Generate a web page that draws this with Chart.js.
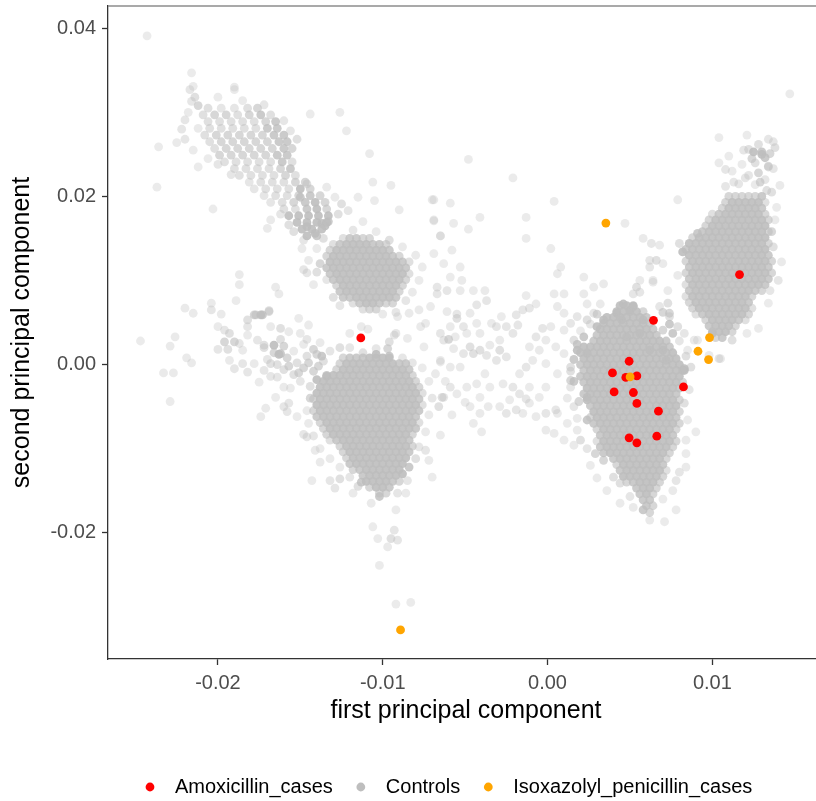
<!DOCTYPE html>
<html>
<head>
<meta charset="utf-8">
<title>PCA cases vs controls</title>
<script src="https://cdn.jsdelivr.net/npm/chart.js@4.4.1/dist/chart.umd.min.js"></script>
<style>
  html, body { margin: 0; padding: 0; background: #ffffff; }
  canvas { display: block; }
</style>
</head>
<body>
<canvas id="pca" width="816" height="801"></canvas>
<script>
// PC scores are written in units of 1e-4 as [first, second]
const SCORE_UNIT = 1e-4

const amoxicillinCases = [
  [-113.3, 31.6], [64.3, 52.6], [116.5, 107], [49.5, 3.9], [39.4, -10], [47.5, -15.4],
  [54.2, -13.5], [40.4, -32.6], [52.1, -33.3], [54.2, -46.3], [67.3, -55.5], [82.5, -26.6],
  [49.5, -87.2], [54.2, -93.2], [66.3, -85.2]
]

const isoxazolylCases = [
  [50.1, -14.7], [98.3, 32.1], [91.3, 15.8], [97.7, 5.9], [35.4, 168.3], [-89.2, -315.7]
]

// loose control points, read one by one
const controlsScattered = [
  [-216,347],[-215,331],[-217,327],[-190,330],[-190,327],[-216,313],[-212,308],[-220,291],[-236,259],[-225,264],
  [-237,211],[-212,235],[-203,185],[-144,298],[-126,300],[-122,278],[-108,251],[-106,217],[-95,213],[-90,184],
  [-70,196],[-69,171],[-65,153],[-105,195],[-149,138],[-148,148],[-145,124],[-148,113],[-146,109],[-187,107],
  [-187,95],[-165,92],[-163,84],[-189,76],[-220,67],[-215,61],[-204,73],[-204,65],[-198,60],[-178,59],
  [-169,64],[-174,59],[-243,391],[147,322],
  [-170,162],[-168,172],[-162,179],[-157,166],[-154,158],[-146,164],[-141,156],[-137,168],[-133,170],[-127,179],
  [-125,191],[-121,183],[-115,199],[-129,199],[-134,211],[-146,215],[-150,199],
  [-218,300],[-214,318],[-200,318],[-185,314],[-172,309],[-160,290],[-156,278],[-152,268],[-222,280],
  [-220,268],[-215,255],[-206,245],[-200,238],[-192,226],
  [-136,150],[-140,138],[-138,120],[-80,130],[-76,116],[-78,100],[-82,86],[-86,76],[-130,80],[-126,70],
  [-100,60],[-92,62],[-118,160],[-104,158],[-96,148],[-140,110],[-142,95],[-135,165],[-112,170],[-88,140],
  [-247,28],[-229,22],[-226,33],[-219,8],[-216,2],[-233,-10],[-227,-10],[-229,-44],[-200,45],[-200,18],
  [-194,18],[-196,41],[-193,37],[-196,27],[-190,27],[-187,25],[-185,17],[-193,5],[-190,-5],[-185,1],
  [-182,53],[-182,45],[-177,59],[-173,59],[-169,63],[-182,35],[-176,29],[-172,23],[-178,1],[-175,-21],
  [-182,-9],[-168,45],[-162,43],[-157,39],[-151,55],[-145,47],[-150,37],[-166,23],[-162,13],[-168,1],
  [-172,-7],[-164,-15],[-160,-27],[-165,-39],[-171,-52],[-174,-62],[-160,-50],[-157,-46],[-158,-56],[-152,-62],
  [-148,-83],[-146,-86],[-141,-102],[-138,-116],[-143,-138],[-132,-138],[-129,-147],[-126,-136],[-118,-153],[-113,-140],
  [-107,-165],[-102,-157],[-106,-193],[-103,-207],[-97,-217],[-102,-239],[-95,-207],[-92,-173],[-91,-153],[-86,-153],
  [-93,-197],[-91,-209],[-92,-285],[-83,-283],[-85,-138],[-74,-102],[-72,-114],[-70,-134],[-65,-84],[-63,-39],
  [-68,-11],[-65,3],[-75,21],[-77,45],[-74,49],[-85,31],[-93,35],[-91,57],[-84,61],[-78,65],
  [-71,69],[-67,84],[-120,37],[-113,45],[-109,42],[-104,19],[-97,19],[-96,27],[-92,37],
  [-172,20],[-166,14],[-160,22],[-154,16],[-148,24],[-142,18],[-170,6],[-164,0],[-158,8],[-152,2],
  [-146,10],[-140,12],[-160,-6],[-154,-12],[-148,-4],[-142,-8],[-136,4],[-150,-20],[-144,-26],[-156,-28],
  [-146,30],[-138,26],[-132,16],[-126,20],[-162,30],[-168,-14],[-163,12],[-157,-2],[-151,-10],[-139,-2],
  [-134,-14],[-140,-18],[-145,2],[-137,10],
  [-120,20],[-112,14],[-104,12],[-96,10],[-88,8],[-82,2],[-76,-4],[-72,-20],[-70,-40],[-72,-60],
  [-74,-80],[-78,-98],[-80,-112],[-84,-122],[-88,-130],[-144,-40],[-146,-55],[-145,-70],[-142,-85],[-138,-100],
  [-132,-112],[-126,-122],[-120,-134],[-115,-145],
  [-55,60],[-60,30],[-62,-20],[-50,-45],[-58,-60],[-45,-70],[-40,-80],[-66,-50],
  [-48,244],[-21,222],[4,194],[47,168],[-13,175],[-13,150],[-41,175],[-57,168],[-48,161],[-65,153],
  [-69,196],[-59,192],[-69,172],[79,196],[104,270],[121,273],[137,265],[108,232],[113,217],[119,255],
  [125,253],[130,253],[135,251],[137,233],[141,213],[139,187],[138,172],[136,158],[134,235],[122,225],
  [129,217],[133,207],
  [142,122],[137,140],[140,100],[135,88],[134,73],[128,43],[121,37],[112,29],[105,7],[98,11],
  [91,156],[80,144],[82,134],[79,106],[73,88],[73,73],[74,57],[79,45],[83,37],[91,29],[100,37],
  [58,150],[63,144],[68,142],[62,124],[70,120],[64,98],[56,86],[52,69],[68,69],[74,61],
  [70,41],[76,37],[85,17],[89,29],[104,7],[87,-3],[83,-5],
  [83,-7],[83,-46],[85,-66],[90,-80],[84,-106],[84,-122],[78,-138],[78,-173],[71,-187],[62,-185],[58,-173],
  [50,-157],[44,-141],[40,-134],[34,-114],[29,-106],[24,-100],[16,-96],[10,-90],[4,-82],[-1,-78],
  [12,-70],[6,-58],[18,-64],[24,-66],
  [-69,132],[-63,120],[-58,136],[-53,116],[-59,104],[-52,100],[-67,92],[-61,88],[-53,88],[-45,88],
  [-38,88],[-37,76],[-43,71],[-47,61],[-61,63],[-55,55],[-51,45],[-59,45],[-65,37],[-56,33],
  [-49,37],[-43,49],[-41,37],[-34,49],[-28,57],[-31,45],[-25,45],[-19,59],[-15,65],[-11,67],
  [-18,47],[-21,37],[-29,29],[-35,23],[-41,17],[-47,21],[-51,13],[-57,19],[-63,29],[-65,5],
  [-59,-3],[-53,-3],[-45,13],[-37,11],[-29,17],[-25,9],[-31,5],[-38,-11],[-43,-23],[-49,-27],
  [-55,-35],[-59,-27],[-64,-39],[-41,-39],[-35,-27],[-27,-23],[-21,-27],[-17,-35],[-23,-42],[-29,-50],
  [-36,-50],[-41,-58],[-47,-50],[-25,-58],[-19,-54],[-13,-41],[-11,-27],[-17,-11],[-13,-3],[-9,5],
  [-5,17],[-1,29],[5,21],[-11,21],[-7,33],[-3,43],[2,45],[10,41],[14,49],[18,57],
  [24,53],[28,61],[32,72],[24,72],[22,84],[28,92],[34,96],[22,104],[10,84],[4,84],
  [6,108],[8,116],[2,138],[-13,82],[-7,72],[10,61],[6,69],[16,29],[10,13],[14,-3],
  [6,-11],[-1,-27],[-5,-39],[-11,-46],[-15,-58],[-1,1],[18,17],[22,33],[24,13],[30,45],
  [34,53],[42,61],[46,72],[52,84],[54,92],[56,100],[62,116],[66,124],[64,100],[45,53],
  [50,65],[58,53],[48,33],[56,37],[62,17],[70,17],[72,5],[14,-27],[14,-19],[19,-44],
  [24,-39],[16,-50],[5,-54],[-1,-58],[-7,-62],
  [16,-20],[12,-40],[18,-78],[20,-90],[26,-120],[30,-135],[36,-150],[44,-165],[52,-170],[70,-160],
  [76,-150],[80,-128],[84,-90],[86,-30],[84,10],[80,28],[74,48],[70,62],[30,60],[26,48],
  [20,40],[18,24],[16,6],[14,-8],
  [112,230],[118,238],[124,245],[130,250],[120,222],[128,228],[134,236],[116,215],[126,214],[132,220],
  [136,205],[108,212],[122,256],[128,262],[134,268],[138,258],[110,248],[104,240],[126,240],[132,246]
]

// dense control clouds, one line per row: [second, first, first, ...]
const controlsUpperLeftRows = [
  [305, -206,-198,-190,-182,-176],
  [297, -209,-202,-195,-188,-181,-174,-168],
  [289, -206,-199,-192,-185,-178,-171,-165],
  [281, -212,-205,-198,-191,-184,-177,-170,-164],
  [273, -208,-201,-194,-187,-180,-173,-166,-160],
  [265, -205,-198,-191,-184,-177,-170,-163,-158],
  [257, -202,-195,-188,-181,-174,-167,-160,-155],
  [249, -199,-192,-185,-178,-171,-164,-158],
  [241, -196,-189,-182,-175,-168,-161,-155],
  [233, -190,-183,-176,-169,-162,-156],
  [225, -187,-180,-173,-166,-159,-153],
  [217, -181,-174,-167,-160,-153,-147],
  [209, -178,-171,-164,-157,-150,-144],
  [201, -172,-165,-158,-151,-144,-138],
  [193, -168,-161,-154,-147,-141,-135],
  [185, -160,-153,-146,-140,-134],
  [177, -157,-151,-145,-139,-133],
  [169, -152,-146,-140,-134],
  [161, -149,-143,-137],
  [153, -146,-140]
]

const controlsMidLeftRows = [
  [150, -124,-120,-116,-112,-108],
  [143, -130,-126,-122,-118,-114,-110,-106,-102,-98],
  [136, -132,-128,-124,-120,-116,-112,-108,-104,-100,-96],
  [129, -134,-130,-126,-122,-118,-114,-110,-106,-102,-98,-94,-90],
  [122, -132,-128,-124,-120,-116,-112,-108,-104,-100,-96,-92,-88,-84],
  [115, -134,-130,-126,-122,-118,-114,-110,-106,-102,-98,-94,-90,-86],
  [108, -132,-128,-124,-120,-116,-112,-108,-104,-100,-96,-92,-88,-84],
  [101, -134,-130,-126,-122,-118,-114,-110,-106,-102,-98,-94,-90,-86],
  [94, -128,-124,-120,-116,-112,-108,-104,-100,-96,-92,-88],
  [87, -126,-122,-118,-114,-110,-106,-102,-98,-94,-90],
  [80, -124,-120,-116,-112,-108,-104,-100,-96,-92],
  [73, -118,-114,-110,-106,-102,-98,-94],
  [66, -112,-108,-104]
]

const controlsLowerLeftRows = [
  [8, -124,-120,-116,-112,-108,-104,-100,-96],
  [1, -126,-122,-118,-114,-110,-106,-102,-98,-94,-90,-86],
  [-6, -128,-124,-120,-116,-112,-108,-104,-100,-96,-92,-88,-84],
  [-13, -134,-130,-126,-122,-118,-114,-110,-106,-102,-98,-94,-90,-86,-82],
  [-20, -136,-132,-128,-124,-120,-116,-112,-108,-104,-100,-96,-92,-88,-84,-80],
  [-27, -138,-134,-130,-126,-122,-118,-114,-110,-106,-102,-98,-94,-90,-86,-82,-78],
  [-34, -140,-136,-132,-128,-124,-120,-116,-112,-108,-104,-100,-96,-92,-88,-84,-80,-76],
  [-41, -142,-138,-134,-130,-126,-122,-118,-114,-110,-106,-102,-98,-94,-90,-86,-82,-78],
  [-48, -140,-136,-132,-128,-124,-120,-116,-112,-108,-104,-100,-96,-92,-88,-84,-80,-76],
  [-55, -142,-138,-134,-130,-126,-122,-118,-114,-110,-106,-102,-98,-94,-90,-86,-82,-78],
  [-62, -140,-136,-132,-128,-124,-120,-116,-112,-108,-104,-100,-96,-92,-88,-84,-80],
  [-69, -138,-134,-130,-126,-122,-118,-114,-110,-106,-102,-98,-94,-90,-86,-82,-78],
  [-76, -136,-132,-128,-124,-120,-116,-112,-108,-104,-100,-96,-92,-88,-84,-80],
  [-83, -134,-130,-126,-122,-118,-114,-110,-106,-102,-98,-94,-90,-86,-82],
  [-90, -132,-128,-124,-120,-116,-112,-108,-104,-100,-96,-92,-88,-84],
  [-97, -126,-122,-118,-114,-110,-106,-102,-98,-94,-90,-86,-82],
  [-104, -124,-120,-116,-112,-108,-104,-100,-96,-92,-88,-84],
  [-111, -122,-118,-114,-110,-106,-102,-98,-94,-90,-86],
  [-118, -120,-116,-112,-108,-104,-100,-96,-92,-88],
  [-125, -118,-114,-110,-106,-102,-98,-94,-90],
  [-132, -112,-108,-104,-100,-96,-92],
  [-139, -110,-106,-102,-98,-94,-90],
  [-146, -108,-104,-100,-96],
  [-153, -102,-98]
]

const controlsRightLowRows = [
  [70, 44,48,52],
  [63, 42,46,50,54,58],
  [56, 36,40,44,48,52,56,60],
  [49, 34,38,42,46,50,54,58,62],
  [42, 32,36,40,44,48,52,56,60,64],
  [35, 30,34,38,42,46,50,54,58,62,66],
  [28, 28,32,36,40,44,48,52,56,60,64,68,72],
  [21, 22,26,30,34,38,42,46,50,54,58,62,66,70,74],
  [14, 20,24,28,32,36,40,44,48,52,56,60,64,68,72,76],
  [7, 22,26,30,34,38,42,46,50,54,58,62,66,70,74,78],
  [0, 20,24,28,32,36,40,44,48,52,56,60,64,68,72,76,80],
  [-7, 22,26,30,34,38,42,46,50,54,58,62,66,70,74,78,82],
  [-14, 20,24,28,32,36,40,44,48,52,56,60,64,68,72,76,80],
  [-21, 22,26,30,34,38,42,46,50,54,58,62,66,70,74,78,82],
  [-28, 24,28,32,36,40,44,48,52,56,60,64,68,72,76,80],
  [-35, 22,26,30,34,38,42,46,50,54,58,62,66,70,74,78],
  [-42, 24,28,32,36,40,44,48,52,56,60,64,68,72,76,80],
  [-49, 26,30,34,38,42,46,50,54,58,62,66,70,74,78],
  [-56, 28,32,36,40,44,48,52,56,60,64,68,72,76,80],
  [-63, 26,30,34,38,42,46,50,54,58,62,66,70,74,78],
  [-70, 28,32,36,40,44,48,52,56,60,64,68,72,76,80],
  [-77, 30,34,38,42,46,50,54,58,62,66,70,74,78],
  [-84, 32,36,40,44,48,52,56,60,64,68,72,76],
  [-91, 30,34,38,42,46,50,54,58,62,66,70,74,78],
  [-98, 32,36,40,44,48,52,56,60,64,68,72,76],
  [-105, 34,38,42,46,50,54,58,62,66,70,74],
  [-112, 40,44,48,52,56,60,64,68,72],
  [-119, 42,46,50,54,58,62,66,70],
  [-126, 44,48,52,56,60,64,68,72],
  [-133, 46,50,54,58,62,66,70],
  [-140, 48,52,56,60,64,68],
  [-147, 54,58,62,66],
  [-154, 56,60,64],
  [-161, 58,62],
  [-168, 60,64],
  [-176, 62]
]

const controlsRightHighRows = [
  [200, 110,114,118,122,126,130],
  [193, 108,112,116,120,124,128,132],
  [186, 106,110,114,118,122,126,130],
  [179, 100,104,108,112,116,120,124,128,132],
  [172, 98,102,106,110,114,118,122,126,130,134],
  [165, 96,100,104,108,112,116,120,124,128,132],
  [158, 94,98,102,106,110,114,118,122,126,130,134],
  [151, 88,92,96,100,104,108,112,116,120,124,128,132],
  [144, 86,90,94,98,102,106,110,114,118,122,126,130,134],
  [137, 84,88,92,96,100,104,108,112,116,120,124,128,132],
  [130, 86,90,94,98,102,106,110,114,118,122,126,130,134],
  [123, 84,88,92,96,100,104,108,112,116,120,124,128,132,136],
  [116, 86,90,94,98,102,106,110,114,118,122,126,130,134],
  [109, 84,88,92,96,100,104,108,112,116,120,124,128,132,136],
  [102, 86,90,94,98,102,106,110,114,118,122,126,130,134],
  [95, 84,88,92,96,100,104,108,112,116,120,124,128,132],
  [88, 86,90,94,98,102,106,110,114,118,122,126,130],
  [81, 84,88,92,96,100,104,108,112,116,120,124],
  [74, 86,90,94,98,102,106,110,114,118,122],
  [67, 88,92,96,100,104,108,112,116,120,124],
  [60, 90,94,98,102,106,110,114,118,122],
  [53, 96,100,104,108,112,116,120],
  [46, 98,102,106,110,114],
  [39, 100,104,108,112],
  [32, 102,106]
]

const xTicks = [-0.02, -0.01, 0, 0.01]
const yTicks = [-0.02, 0, 0.02, 0.04]
const xTitle = 'first principal component'
const yTitle = 'second principal component'
const groupLabels = ['Amoxicillin_cases', 'Controls', 'Isoxazolyl_penicillin_cases']
const groupColors = ['#ff0000', '#bebebe', '#ffa500']

const FONT = '"Liberation Sans", Arial, sans-serif'
Chart.defaults.font.family = FONT

// rows -> [first, second] pairs
function rowsToPairs(rows) {
  const out = []
  rows.forEach(([second, ...firsts]) => firsts.forEach(first => out.push([first, second])))
  return out
}

function toPoints(pairs) {
  return pairs.map(([x, y]) => ({ x: x * SCORE_UNIT, y: y * SCORE_UNIT }))
}

const controls = [
  ...controlsScattered,
  ...rowsToPairs(controlsUpperLeftRows),
  ...rowsToPairs(controlsMidLeftRows),
  ...rowsToPairs(controlsLowerLeftRows),
  ...rowsToPairs(controlsRightLowRows),
  ...rowsToPairs(controlsRightHighRows)
]

// the original has thousands of overplotted controls; where my sample
// crowds, fill heavier so the cores read as solid as in the reference
function crowdFill(pairs) {
  const PX_X = 1.648, PX_Y = 0.841, R2 = 121
  return pairs.map(([x, y], i) => {
    let n = 0
    for (let j = 0; j < pairs.length; j++) {
      if (j === i) continue
      const dx = (pairs[j][0] - x) * PX_X
      const dy = (pairs[j][1] - y) * PX_Y
      if (dx * dx + dy * dy < R2) n++
    }
    const a = Math.min(0.9, 0.3 + 0.02 * n * n)
    return `rgba(190,190,190,${a.toFixed(2)})`
  })
}

// keep the plot panel exactly where the reference has it
function pinScale(size, key) {
  return scale => {
    scale[key] = size
    scale.paddingTop = 0
    scale.paddingBottom = 0
    scale.paddingLeft = 0
    scale.paddingRight = 0
  }
}

// top border, axis titles and the bottom legend
const decor = {
  id: 'decor',
  afterDraw(chart) {
    const { ctx, chartArea: a } = chart
    ctx.save()

    ctx.strokeStyle = '#8c8c8c'
    ctx.lineWidth = 1.5
    ctx.beginPath()
    ctx.moveTo(a.left, a.top)
    ctx.lineTo(a.right, a.top)
    ctx.stroke()

    ctx.fillStyle = '#000000'
    ctx.font = `25px ${FONT}`
    ctx.textAlign = 'center'
    ctx.textBaseline = 'middle'
    ctx.fillText(xTitle, 466, 711)

    ctx.save()
    ctx.translate(22, (a.top + a.bottom) / 2)
    ctx.rotate(-Math.PI / 2)
    ctx.fillText(yTitle, 0, 0)
    ctx.restore()

    // legend
    ctx.font = `20px ${FONT}`
    ctx.textAlign = 'left'
    const legendY = 787
    let x = 150
    groupLabels.forEach((label, i) => {
      ctx.fillStyle = groupColors[i]
      ctx.beginPath()
      ctx.arc(x, legendY, 4.4, 0, Math.PI * 2)
      ctx.fill()
      ctx.fillStyle = '#000000'
      ctx.fillText(label, x + 25, legendY)
      x += 25 + ctx.measureText(label).width + 28
    })

    ctx.restore()
  }
}

function axisOptions(min, max, ticks, afterFit) {
  return {
    type: 'linear',
    min: min,
    max: max,
    afterFit: afterFit,
    afterBuildTicks: scale => { scale.ticks = ticks.map(v => ({ value: v })) },
    ticks: {
      color: '#4d4d4d',
      font: { size: 20 },
      padding: 6,
      maxRotation: 0,
      autoSkip: false,
      callback: v => Number(v).toFixed(2)
    },
    grid: {
      drawOnChartArea: false,
      drawTicks: true,
      tickLength: 6,
      tickColor: '#333333',
      tickWidth: 1.3
    },
    border: { display: true, color: '#333333', width: 1.3 }
  }
}

const pointStyle = { pointRadius: 4.4, pointHoverRadius: 4.4, pointBorderWidth: 0, showLine: false }

new Chart(document.getElementById('pca'), {
  type: 'scatter',
  data: {
    datasets: [
      { label: groupLabels[0], data: toPoints(amoxicillinCases), pointBackgroundColor: groupColors[0], order: 2, ...pointStyle },
      { label: groupLabels[1], data: toPoints(controls), pointBackgroundColor: crowdFill(controls), order: 3, ...pointStyle },
      { label: groupLabels[2], data: toPoints(isoxazolylCases), pointBackgroundColor: groupColors[2], order: 1, ...pointStyle }
    ]
  },
  options: {
    responsive: false,
    animation: false,
    events: [],
    layout: { autoPadding: false, padding: { top: 6, right: 0, bottom: 0, left: 0 } },
    plugins: { legend: { display: false }, tooltip: { enabled: false } },
    scales: {
      x: axisOptions(-0.02667, 0.01629, xTicks, pinScale(142, 'height')),
      y: axisOptions(-0.03503, 0.04265, yTicks, pinScale(108, 'width'))
    }
  },
  plugins: [decor]
})
</script>
</body>
</html>
